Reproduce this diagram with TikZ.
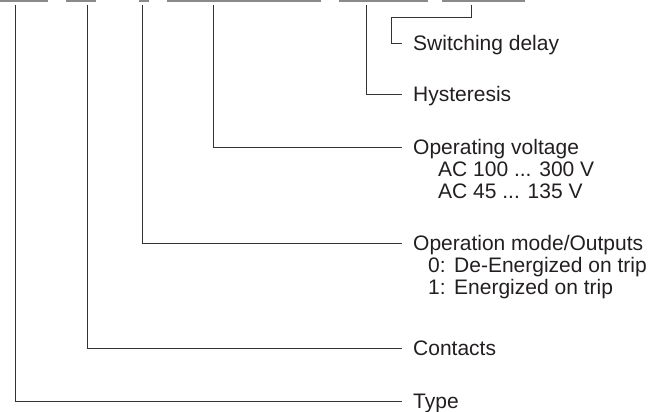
\documentclass[tikz,border=0pt]{standalone}
\usepackage{fontspec}
\setmainfont{Liberation Sans}
\definecolor{ink}{HTML}{231F20}
\definecolor{ruleline}{HTML}{333333}
\definecolor{underl}{HTML}{8A8A8A}
\begin{document}
\begin{tikzpicture}[x=1pt,y=-1pt,
  lbl/.style={anchor=base west,inner sep=0pt,text=ink,font=\fontsize{21}{22}\selectfont},
  conn/.style={draw=ruleline,line width=0.9pt},
  ul/.style={draw=underl,line width=1.2pt}]
\useasboundingbox (0,0) rectangle (672,412);
% cut-off underlines at the top
\draw[ul] (0,1) -- (48,1);
\draw[ul] (66,1) -- (96,1);
\draw[ul] (139,1) -- (149,1);
\draw[ul] (167,1) -- (321,1);
\draw[ul] (339,1) -- (428,1);
\draw[ul] (442,1) -- (525,1);
% top points
\coordinate (tType) at (15,5);
\coordinate (tCont) at (87,5);
\coordinate (tMode) at (142,5);
\coordinate (tVolt) at (213,5);
\coordinate (tHyst) at (366,5);
\coordinate (tDel) at (471,5);
\coordinate (kDel) at (391,17);
% labels
\node[lbl] (sd) at (413,50.5) {Switching delay};
\node[lbl] (hy) at (413,101.5) {Hysteresis};
\node[lbl] (ov) at (413,154.5) {Operating voltage};
\node[lbl] (ov1) at (438,176.5) {AC 100 ... 300 V};
\node[lbl] (ov2) at (438,198.5) {AC 45 ... 135 V};
\node[lbl] (om) at (413,250.5) {Operation mode/Outputs};
\node[lbl] (om0) at (428,272.5) {0:\hspace{8.5pt}De-Energized on trip};
\node[lbl] (om1) at (428,294.5) {1:\hspace{8.5pt}Energized on trip};
\node[lbl] (co) at (413,355.5) {Contacts};
\node[lbl] (ty) at (413,408.5) {Type};
% connectors
\draw[conn] (tDel) |- (kDel) |- ([xshift=-11pt,yshift=7.5pt]sd.base west);
\draw[conn] (tHyst) |- ([xshift=-11pt,yshift=7.5pt]hy.base west);
\draw[conn] (tVolt) |- ([xshift=-11pt,yshift=7.5pt]ov.base west);
\draw[conn] (tMode) |- ([xshift=-11pt,yshift=7.5pt]om.base west);
\draw[conn] (tCont) |- ([xshift=-11pt,yshift=7.5pt]co.base west);
\draw[conn] (tType) |- ([xshift=-11pt,yshift=7.5pt]ty.base west);
\end{tikzpicture}
\end{document}
